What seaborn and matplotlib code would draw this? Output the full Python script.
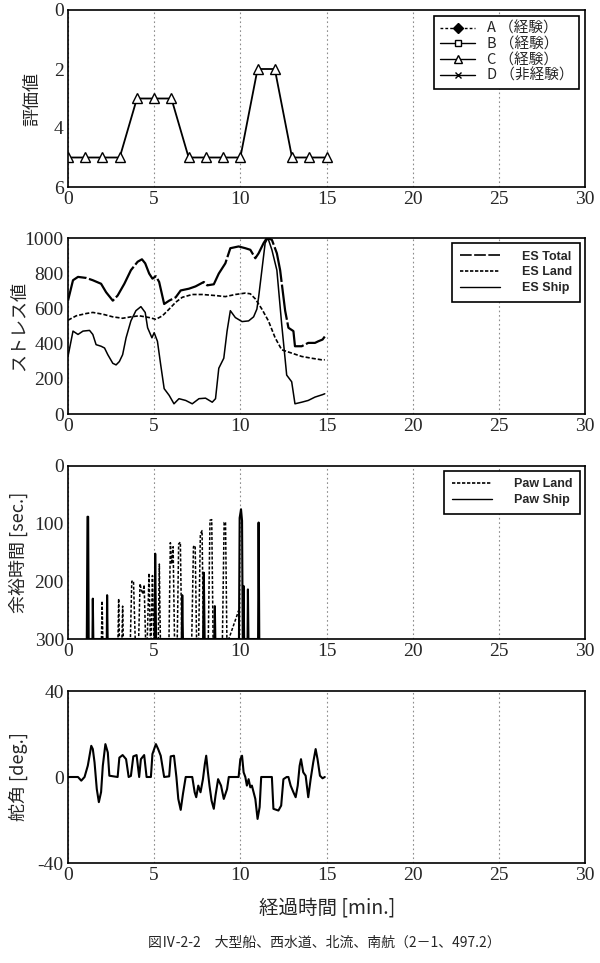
import numpy as np
import pandas as pd
import matplotlib
matplotlib.use("Agg")
import matplotlib.pyplot as plt
from matplotlib.lines import Line2D
import seaborn as sns

# ---------------- data ----------------
eval_t = [0, 1, 2, 3, 4, 5, 6, 7, 8, 9, 10, 11, 12, 13, 14, 15]
eval_c = [5, 5, 5, 5, 3, 3, 3, 5, 5, 5, 5, 2, 2, 5, 5, 5]

es_total_t = [0.00, 0.29, 0.58, 1.06, 1.44, 1.92, 2.21, 2.60, 2.88, 3.27, 3.65, 4.04, 4.29, 4.48,
              4.71, 4.90, 5.10, 5.29, 5.58, 5.87, 6.25, 6.54, 7.02, 7.40, 7.88, 8.08, 8.46, 8.75,
              9.13, 9.42, 9.90, 10.29, 10.58, 10.87, 11.06, 11.35, 11.54, 11.83, 12.12, 12.31,
              12.60, 12.79, 13.08, 13.17, 13.56, 13.94, 14.33, 14.52, 14.77, 14.90]
es_total_v = [644, 760, 779, 773, 760, 740, 692, 644, 673, 740, 817, 865, 879, 856,
              798, 769, 783, 750, 625, 644, 663, 702, 712, 725, 750, 731, 737, 798,
              856, 942, 952, 942, 933, 885, 913, 971, 1000, 990, 913, 817,
              587, 490, 471, 385, 385, 404, 404, 413, 423, 440]

es_land_t = [0.00, 0.48, 1.06, 1.44, 2.02, 2.60, 3.17, 3.65, 4.13, 4.71, 5.10, 5.48, 5.87, 6.25,
             6.63, 7.21, 7.79, 8.56, 9.13, 9.71, 10.29, 10.58, 10.87, 11.25, 11.63, 12.02, 12.40,
             12.98, 13.56, 14.13, 14.71, 14.90]
es_land_v = [533, 558, 571, 577, 567, 552, 544, 552, 558, 548, 538, 558, 596, 635,
             663, 679, 679, 673, 667, 679, 687, 683, 654, 596, 529, 433, 365,
             346, 327, 317, 308, 308]

es_ship_t = [0.00, 0.29, 0.58, 0.87, 1.25, 1.44, 1.63, 1.92, 2.12, 2.31, 2.60, 2.79, 2.98, 3.17,
             3.37, 3.65, 3.94, 4.23, 4.48, 4.62, 4.87, 5.00, 5.19, 5.38, 5.58, 5.87, 6.15, 6.44,
             6.83, 7.21, 7.60, 7.98, 8.37, 8.56, 8.75, 9.04, 9.23, 9.42, 9.71, 10.10, 10.48,
             10.77, 10.96, 11.06, 11.25, 11.44, 11.60, 11.83, 12.12, 12.40, 12.69, 12.98, 13.17,
             13.56, 13.94, 14.33, 14.77, 14.90]
es_ship_v = [327, 471, 452, 471, 475, 452, 394, 385, 375, 337, 288, 279, 298, 337,
             433, 529, 587, 610, 577, 490, 433, 462, 413, 279, 144, 106, 58, 87,
             77, 58, 87, 90, 67, 87, 260, 317, 471, 587, 548, 525, 529,
             552, 596, 663, 817, 971, 1000, 933, 817, 510, 221, 183, 58,
             67, 77, 96, 110, 115]

paw_land_t = [1.94, 1.98, 2.02, 2.90, 2.94, 2.98, 3.13, 3.17, 3.21,
              3.62, 3.70, 3.80, 3.90, 4.10, 4.18, 4.26, 4.34, 4.42, 4.50,
              4.60, 4.70, 4.78, 4.82, 4.90, 4.98, 5.24, 5.30, 5.36,
              5.86, 5.94, 6.02, 6.10, 6.18, 6.34, 6.42, 6.52, 6.60,
              7.18, 7.28, 7.38, 7.46, 7.58, 7.68, 7.78, 7.86,
              8.14, 8.24, 8.34, 8.42, 8.96, 9.06, 9.14, 9.22, 9.33, 9.90, 9.94]
paw_land_v = [300, 234, 300, 300, 230, 300, 300, 243, 300,
              300, 200, 199, 300, 300, 204, 215, 222, 206, 300,
              300, 186, 300, 300, 190, 300, 300, 170, 300,
              300, 133, 170, 140, 300, 300, 135, 132, 300,
              300, 140, 138, 300, 300, 118, 112, 300,
              300, 94, 93, 300, 300, 98, 97, 300, 300, 251, 300]

paw_ship_t = [1.09, 1.10, 1.13, 1.17, 1.20, 1.42, 1.44, 1.47, 2.25, 2.27, 2.30,
              5.02, 5.06, 5.11, 6.60, 6.63, 6.67, 7.84, 7.88, 7.93, 8.49, 8.52, 8.55,
              9.92, 9.96, 10.04, 10.10, 10.14, 10.17, 10.19, 10.22, 10.42, 10.44, 10.47,
              11.03, 11.06, 11.10]
paw_ship_v = [300, 254, 88, 88, 300, 300, 230, 300, 300, 224, 300,
              300, 152, 300, 300, 224, 300, 300, 185, 300, 300, 243, 300,
              300, 90, 75, 95, 300, 300, 208, 300, 300, 214, 300,
              300, 98, 300]

rudder_t = [0.00, 0.58, 0.77, 0.96, 1.15, 1.35, 1.44, 1.54, 1.67, 1.79, 1.92, 2.02, 2.17, 2.31,
            2.40, 2.88, 2.98, 3.17, 3.37, 3.52, 3.65, 3.79, 3.98, 4.13, 4.23, 4.42, 4.56, 4.81,
            4.90, 5.10, 5.23, 5.38, 5.58, 5.87, 5.96, 6.15, 6.29, 6.40, 6.54, 6.67, 6.83, 7.21,
            7.35, 7.44, 7.56, 7.69, 7.83, 7.94, 8.02, 8.12, 8.21, 8.33, 8.46, 8.56, 8.71, 8.88,
            9.04, 9.23, 9.33, 9.90, 10.00, 10.10, 10.19, 10.29, 10.38, 10.48, 10.58, 10.67, 10.87,
            11.00, 11.12, 11.21, 11.83, 11.92, 12.21, 12.37, 12.50, 12.69, 12.79, 12.92, 13.08,
            13.21, 13.33, 13.44, 13.52, 13.65, 13.79, 13.94, 14.08, 14.23, 14.37, 14.48, 14.62,
            14.77, 14.90]
rudder_v = [0, 0, -1.7, 0, 5.3, 14.5, 13, 6.8, -5.6, -11.7, -7, 5.2, 15.3, 11.4,
            0.6, 0, 9, 10.2, 8.3, 0, 0.5, 9.6, 10.2, 0, 8.3, 10.2, 0, 0,
            10.7, 15.3, 13, 9.9, 0, 0.3, 9.6, 9.9, 0, -10.2, -15.3, -7.9, 0, 0,
            -7.1, -9.4, -4, -7.1, -1, 6, 9.9, 2.2, -4, -11, -14.8, -8.6, -1, -4,
            -10.2, -5.6, 0, 0, 8.3, 9.9, 2.2, 0, -4, -1, -4.8, -4, -10.2,
            -19.5, -14, 0, 0, -14.8, -15.6, -13.3, -1, 0, 0, -4, -7.1,
            -9.4, -4, 5.2, 8.3, 2.2, 0.6, -9.4, -1, 6.8, 13, 8.3, 0.6,
            -0.6, 0]

x_ticks = [0, 5, 10, 15, 20, 25, 30]
legend1_labels = ["A （経験）", "B （経験）", "C （経験）", "D （非経験）"]
legend2_labels = ["ES Total", "ES Land", "ES Ship"]
legend3_labels = ["Paw Land", "Paw Ship"]

# ---------------- style ----------------
sns.set_style("white")
plt.rcParams['font.family'] = ['Liberation Serif', 'Noto Sans CJK JP', 'DejaVu Sans']
plt.rcParams['axes.unicode_minus'] = False
jp = ['Noto Sans CJK JP', 'DejaVu Sans']

fig = plt.figure(figsize=(6.0, 9.63), dpi=100)
L, W = 68 / 600, 517 / 600
def mk(top, bottom):
    return fig.add_axes([L, 1 - bottom / 963, W, (bottom - top) / 963])

ax1 = mk(10, 187)
ax2 = mk(238, 414)
ax3 = mk(466, 639)
ax4 = mk(691, 863)

def common(ax, ylabel, labx):
    ax.set_xlim(0, 30)
    ax.set_xticks(x_ticks)
    ax.tick_params(axis='both', length=0, labelsize=14, pad=3)
    for lab in ax.get_xticklabels() + ax.get_yticklabels():
        lab.set_family('Liberation Serif')
    ax.grid(axis='x', color='0.55', linestyle=(0, (1.5, 2.5)), linewidth=0.8)
    ax.grid(axis='y', visible=False)
    for s in ax.spines.values():
        s.set_color('black'); s.set_linewidth(1.2)
    ax.set_xlabel('')
    ax.set_ylabel(ylabel, fontsize=13, family=jp)
    ax.yaxis.set_label_coords(labx, 0.5)

# panel 1
df1 = pd.DataFrame({'t': eval_t, 'v': eval_c})
sns.lineplot(data=df1, x='t', y='v', ax=ax1, color='black', lw=1.3, marker='^',
             markersize=7, markerfacecolor='white', markeredgecolor='black', markeredgewidth=1)
ax1.set_ylim(6, 0)
ax1.set_yticks([0, 2, 4, 6])
common(ax1, '評価値', -0.052)
h1 = [Line2D([], [], color='black', lw=1, ls=(0, (2, 1.5)), marker='D', markersize=5, mfc='black'),
      Line2D([], [], color='black', lw=1, marker='s', markersize=5, mfc='white'),
      Line2D([], [], color='black', lw=1, marker='^', markersize=6, mfc='white'),
      Line2D([], [], color='black', lw=1, marker='x', markersize=4)]
lg = ax1.legend(h1, legend1_labels, loc='upper right', prop={'family': jp, 'size': 10.5},
                frameon=True, fancybox=False, edgecolor='black', framealpha=1,
                handlelength=2.4, borderpad=0.4, labelspacing=0.1, borderaxespad=0.4)
lg.get_frame().set_linewidth(1.2)

# panel 2
sns.lineplot(x=es_total_t, y=es_total_v, ax=ax2, color='black', lw=1.6, ls=(0, (16, 1.2)))
sns.lineplot(x=es_land_t, y=es_land_v, ax=ax2, color='black', lw=1.2, ls=(0, (2.5, 1.2)))
sns.lineplot(x=es_ship_t, y=es_ship_v, ax=ax2, color='black', lw=1.1)
ax2.set_ylim(0, 1000)
ax2.set_yticks([0, 200, 400, 600, 800, 1000])
common(ax2, 'ストレス値', -0.077)
h2 = [Line2D([], [], color='black', lw=1.2, ls=(0, (7, 1.5))),
      Line2D([], [], color='black', lw=1.2, ls=(0, (2, 1))),
      Line2D([], [], color='black', lw=1.0)]
lg = ax2.legend(h2, legend2_labels, loc='upper right',
                prop={'family': 'Liberation Sans', 'weight': 'bold', 'size': 9},
                frameon=True, fancybox=False, edgecolor='black', framealpha=1,
                handlelength=3.2, handletextpad=1.8, borderpad=0.6, labelspacing=0.3,
                borderaxespad=0.4)
lg.get_frame().set_linewidth(1.2)

# panel 3
sns.lineplot(x=paw_land_t, y=paw_land_v, ax=ax3, color='black', lw=1.1, ls=(0, (2, 1.2)),
             sort=False, estimator=None)
sns.lineplot(x=paw_ship_t, y=paw_ship_v, ax=ax3, color='black', lw=1.5,
             sort=False, estimator=None)
ax3.set_ylim(300, 0)
ax3.set_yticks([0, 100, 200, 300])
common(ax3, '余裕時間 [sec.]', -0.077)
h3 = [Line2D([], [], color='black', lw=1.2, ls=(0, (2, 1))),
      Line2D([], [], color='black', lw=1.0)]
lg = ax3.legend(h3, legend3_labels, loc='upper right',
                prop={'family': 'Liberation Sans', 'weight': 'bold', 'size': 9},
                frameon=True, fancybox=False, edgecolor='black', framealpha=1,
                handlelength=3.2, handletextpad=1.8, borderpad=0.6, labelspacing=0.3,
                borderaxespad=0.4)
lg.get_frame().set_linewidth(1.2)

# panel 4
sns.lineplot(x=rudder_t, y=rudder_v, ax=ax4, color='black', lw=1.5, sort=False, estimator=None)
ax4.set_ylim(-40, 40)
ax4.set_yticks([-40, 0, 40])
common(ax4, '舵角 [deg.]', -0.077)

fig.text(0.545, 1 - 908 / 963, '経過時間 [min.]', ha='center', va='center', fontsize=14, family=jp)
fig.text(0.54, 1 - 943 / 963, '図Ⅳ-2-2　大型船、西水道、北流、南航（2－1、497.2）',
         ha='center', va='center', fontsize=10, family=jp)

fig.savefig('out.png', dpi=100)
